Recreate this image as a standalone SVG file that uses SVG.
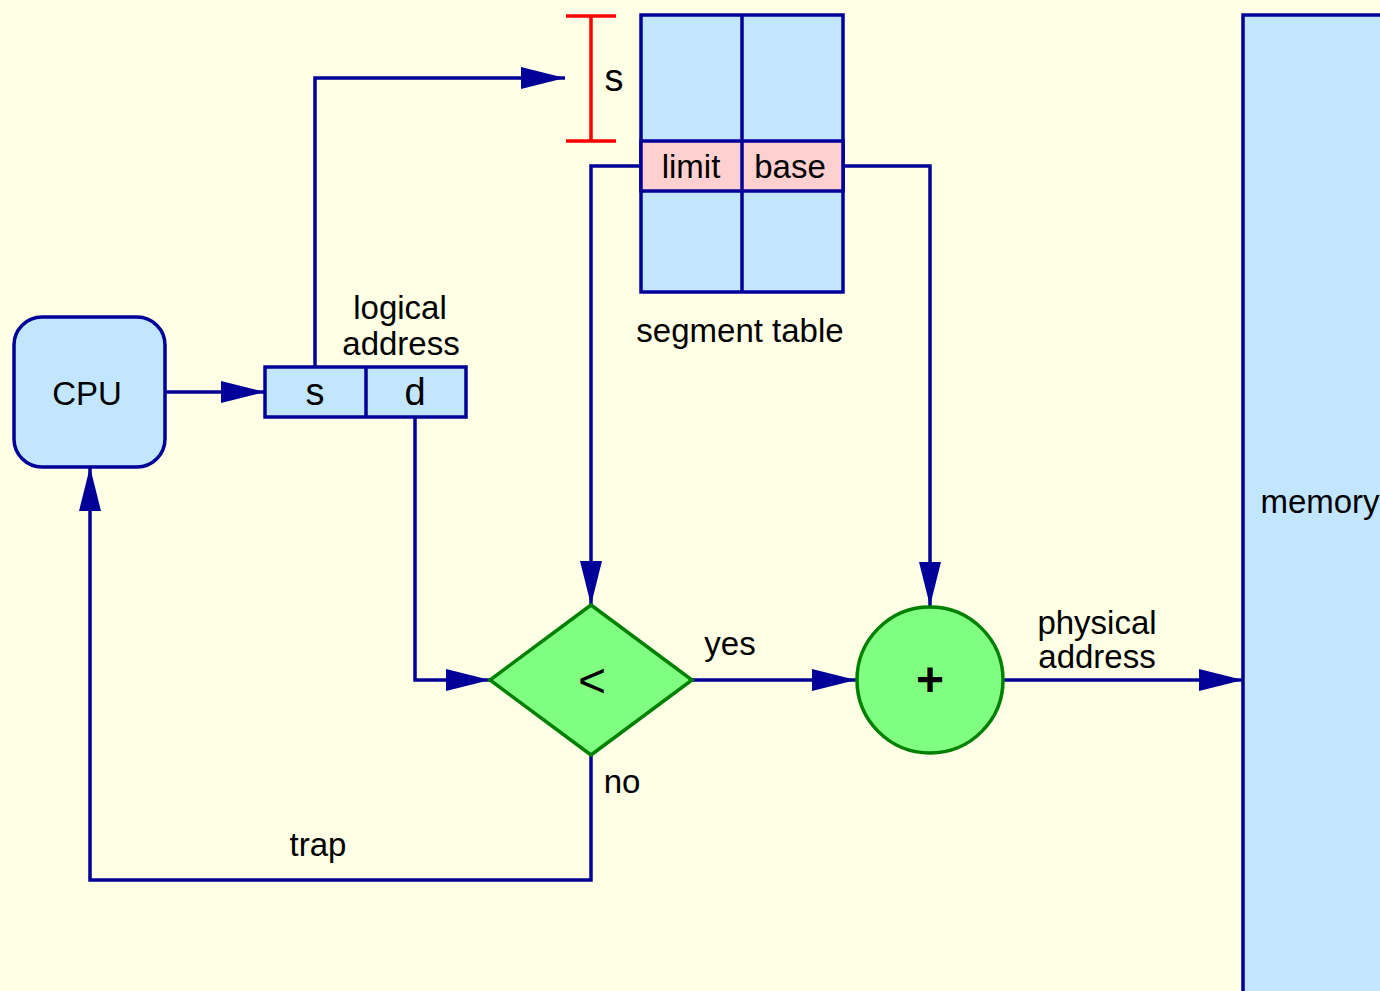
<svg xmlns="http://www.w3.org/2000/svg" width="1380" height="991" viewBox="0 0 1380 991">
<style>
.t{font-family:"Liberation Sans",Arial,sans-serif;font-size:33px;fill:#000;text-anchor:middle}
.big{font-size:38px}
.op{font-size:48px}
.box{fill:#C2E6FF;stroke:#000099;stroke-width:3.5}
.pink{fill:#FFD0D0;stroke:#000099;stroke-width:3.5}
.green{fill:#80FF80;stroke:#008000;stroke-width:3.5}
.ln{fill:none;stroke:#000099;stroke-width:3.5}
.arr{fill:none;stroke:#000099;stroke-width:3.5;marker-end:url(#ah)}
</style>
<defs>
<marker id="ah" markerUnits="userSpaceOnUse" markerWidth="44" markerHeight="22" refX="44" refY="11" orient="auto">
<path d="M0,0 L44,11 L0,22 z" fill="#000099"/>
</marker>
</defs>
<rect width="1380" height="991" fill="#FFFFE5"/>
<g id="memory">
<rect class="box" x="1243" y="15" width="160" height="1000"/>
<text class="t" x="1320" y="513">memory</text>
</g>
<g id="connectors">
<path class="arr" d="M165,392 H265"/>
<path class="arr" d="M315,367 V78 H565"/>
<path class="arr" d="M641,166 H591 V605"/>
<path class="arr" d="M843,166 H930 V606"/>
<path class="arr" d="M415,417 V680 H490"/>
<path class="arr" d="M692,680 H856"/>
<path class="arr" d="M1003,680 H1243"/>
<path class="arr" d="M591,755 V880 H90 V467"/>
</g>
<g id="cpu">
<rect class="box" x="14" y="317" width="151" height="150" rx="28"/>
<text class="t" x="87" y="405">CPU</text>
</g>
<g id="logical-address">
<rect class="box" x="265" y="367" width="201" height="50"/>
<line class="ln" x1="366" y1="367" x2="366" y2="417"/>
<text class="t big" x="315" y="405">s</text>
<text class="t big" x="415" y="405">d</text>
<text class="t" x="400" y="319">logical</text>
<text class="t" x="401" y="355">address</text>
</g>
<g id="bracket" stroke="#FF0000" stroke-width="3.5">
<line x1="591" y1="16" x2="591" y2="141"/>
<line x1="566" y1="16" x2="616" y2="16"/>
<line x1="566" y1="141" x2="616" y2="141"/>
<text class="t big" x="614" y="91" stroke="none">s</text>
</g>
<g id="segment-table">
<rect class="box" x="641" y="15" width="202" height="277"/>
<rect class="pink" x="641" y="141" width="202" height="50"/>
<line class="ln" x1="742" y1="15" x2="742" y2="292"/>
<text class="t" x="691" y="178">limit</text>
<text class="t" x="790" y="178">base</text>
<text class="t" x="740" y="342">segment table</text>
</g>
<g id="compare">
<polygon class="green" points="591,605 692,680 591,755 490,680"/>
<text class="t op" x="592" y="697">&lt;</text>
<text class="t" x="730" y="655">yes</text>
<text class="t" x="622" y="793">no</text>
<text class="t" x="318" y="856">trap</text>
</g>
<g id="adder">
<circle class="green" cx="930" cy="680" r="73"/>
<text class="t op" x="930" y="696" font-weight="bold">+</text>
<text class="t" x="1097" y="634">physical</text>
<text class="t" x="1097" y="668">address</text>
</g>
</svg>
